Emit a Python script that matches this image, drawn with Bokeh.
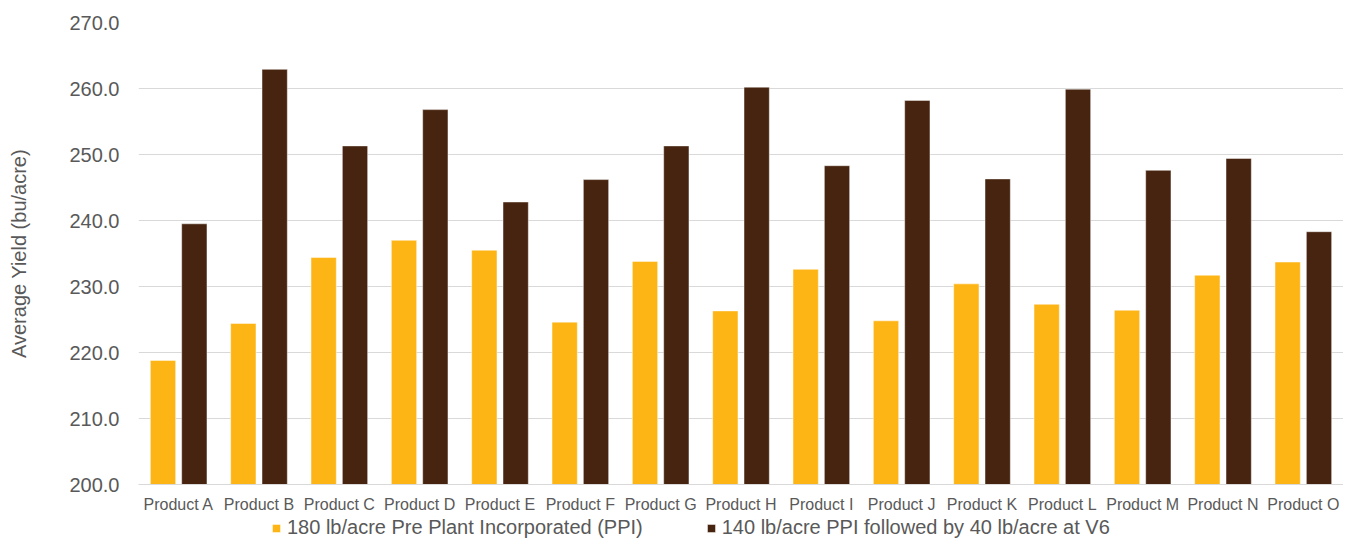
from bokeh.plotting import figure
from bokeh.layouts import column
from bokeh.models import (FactorRange, Legend, LegendItem, FixedTicker,
                          PrintfTickFormatter, ColumnDataSource)
from bokeh.transform import dodge
from bokeh.embed import file_html
from bokeh.resources import INLINE

products = ["Product A", "Product B", "Product C", "Product D", "Product E",
            "Product F", "Product G", "Product H", "Product I", "Product J",
            "Product K", "Product L", "Product M", "Product N", "Product O"]
ppi_180 = [218.8, 224.4, 234.4, 237.0, 235.5, 224.6, 233.8, 226.3, 232.6,
           224.8, 230.4, 227.3, 226.4, 231.7, 233.7]
split_140_40 = [239.5, 262.9, 251.3, 256.8, 242.8, 246.2, 251.3, 260.2, 248.3,
                258.2, 246.3, 259.9, 247.6, 249.4, 238.3]
series_names = ["180 lb/acre Pre Plant Incorporated (PPI)",
                "140 lb/acre PPI followed by 40 lb/acre at V6"]
y_ticks = [200, 210, 220, 230, 240, 250, 260, 270]
y_title = "Average Yield (bu/acre)"

FONT = "Liberation Sans"
TXT = "#595959"
YELLOW = "#FDB515"
BROWN = "#47240F"
GRID = "#D9D9D9"
W = 1343
LEFT = 138

src = ColumnDataSource(dict(x=products, a=ppi_180, b=split_140_40))

p = figure(x_range=FactorRange(*products), y_range=(y_ticks[0], y_ticks[-1]),
           width=W, height=516, output_backend="svg", toolbar_location=None,
           min_border_left=LEFT, min_border_right=0, min_border_top=22,
           min_border_bottom=32)
p.outline_line_color = None
p.background_fill_color = "white"
p.border_fill_color = "white"

bar_style = dict(line_color="white", line_alpha=0.45, line_width=1)
p.vbar(x=dodge("x", -0.195, range=p.x_range), top="a", bottom=y_ticks[0],
       width=0.315, source=src, fill_color=YELLOW, **bar_style)
p.vbar(x=dodge("x", 0.195, range=p.x_range), top="b", bottom=y_ticks[0],
       width=0.315, source=src, fill_color=BROWN, **bar_style)

p.xgrid.grid_line_color = None
p.ygrid.grid_line_color = GRID
p.ygrid.grid_line_width = 1.2

yax = p.yaxis[0]
yax.ticker = FixedTicker(ticks=y_ticks)
yax.formatter = PrintfTickFormatter(format="%.1f")
yax.axis_line_color = None
yax.major_tick_line_color = None
yax.minor_tick_line_color = None
yax.major_tick_out = 0
yax.major_label_standoff = 19
yax.major_label_text_font = FONT
yax.major_label_text_font_size = "20px"
yax.major_label_text_color = TXT
yax.axis_label = y_title
yax.axis_label_text_font = FONT
yax.axis_label_text_font_size = "20px"
yax.axis_label_text_font_style = "normal"
yax.axis_label_text_color = TXT
yax.axis_label_standoff = 36

xax = p.xaxis[0]
xax.axis_line_color = GRID
xax.axis_line_width = 1.2
xax.major_tick_line_color = None
xax.minor_tick_line_color = None
xax.major_tick_out = 0
xax.major_label_standoff = 11
xax.major_label_text_font = FONT
xax.major_label_text_font_size = "16px"
xax.major_label_text_color = TXT

# legend strip below the chart (its frame is aligned with the main frame)
lg = figure(width=W, height=24, x_range=(0, 1), y_range=(0, 1),
            x_axis_type=None, y_axis_type=None, output_backend="svg",
            toolbar_location=None, min_border=0, min_border_left=LEFT)
lg.outline_line_color = None
lg.grid.visible = False
off = dict(x=[-10], top=[-10], bottom=[-11])
k1 = lg.vbar(width=0.1, fill_color=YELLOW, source=ColumnDataSource(off), **bar_style)
k2 = lg.vbar(width=0.1, fill_color=BROWN, source=ColumnDataSource(off), **bar_style)
legend = Legend(items=[LegendItem(label=series_names[0], renderers=[k1]),
                       LegendItem(label=series_names[1], renderers=[k2])],
                location=(271 - LEFT, 1), orientation="horizontal",
                padding=0, margin=0, spacing=63,
                glyph_width=10, glyph_height=10, label_standoff=6,
                label_height=22,
                label_text_font=FONT, label_text_font_size="20px",
                label_text_color=TXT,
                border_line_color=None, background_fill_alpha=0)
lg.add_layout(legend, "center")

layout = column(p, lg, spacing=0)
open("out.html", "w").write(file_html(layout, INLINE))
